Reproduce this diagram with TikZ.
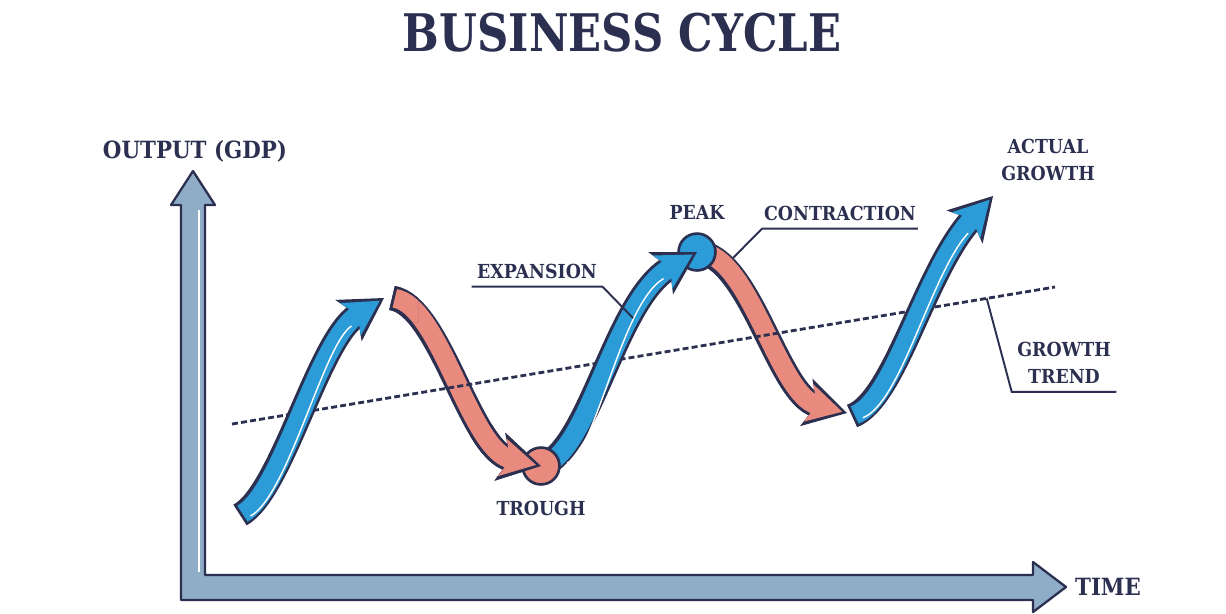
\documentclass[tikz,border=0pt]{standalone}
\usepackage{fontspec}
\newfontfamily\slab{DejaVu Serif Condensed}
\usetikzlibrary{arrows.meta,calc}

\definecolor{ink}{HTML}{2C3050}
\definecolor{rise}{HTML}{2B9CD8}
\definecolor{fall}{HTML}{E98A7F}
\definecolor{axisblue}{HTML}{90ADC8}

\tikzset{
  wave/.style={line width=14pt,draw=ink,-{Stealth[length=24pt,width=28pt,inset=6pt,line width=0pt]}},
  wavefill/.style={line width=10.8pt,shorten >=2.9pt,shorten <=1.6pt,-{Stealth[length=19.8pt,width=22pt,inset=5pt,line width=0pt]}},
  shine/.style={white,line width=0.8pt,shorten >=26pt,shorten <=3pt,transform canvas={shift={(3.4pt,-2pt)}}},
  tag/.style={font=\slab\bfseries\fontsize{11}{15.3}\selectfont,text=ink,align=center,inner sep=1pt},
  axislabel/.style={tag,font=\slab\bfseries\fontsize{13.5}{15}\selectfont},
  leader/.style={draw=ink,line width=1.1pt},
  dot/.style={circle,draw=ink,line width=1.5pt,minimum size=21pt,inner sep=0pt},
}

% one arrow of the wave: dark rim first, colour on top
\newcommand\wavearrow[2]{%
  \draw[wave] #2;
  \draw[wavefill,draw=#1] #2;}

\begin{document}
\begin{tikzpicture}[x=0.02cm,y=-0.02cm]
  \useasboundingbox (0,0) rectangle (1226,613);

  \node[tag,font=\slab\bfseries\fontsize{29.5}{30}\selectfont] (title) at (622,33) {\scalebox{0.93}[1]{BUSINESS CYCLE}};

  % both axes as one L-shaped arrow
  \draw[ink,line width=1.3pt,fill=axisblue,line join=round]
    (181,600) -- (181,205) -- (171,205) -- (193,171) -- (215,205) -- (205,205)
    -- (205,575) -- (1033,575) -- (1033,562) -- (1066,587) -- (1033,612)
    -- (1033,600) -- cycle;
  \draw[white,line width=1pt] (199,210) -- (199,572);
  \node[axislabel] (output) at (195,151) {OUTPUT (GDP)};
  \node[axislabel] (time) at (1108,587) {TIME};

  % turning points of the wave
  \coordinate (start) at (240,515);
  \coordinate (top1) at (384,298);
  \coordinate (top1b) at (392,298);
  \coordinate (troughPt) at (541,466);
  \coordinate (peakPt) at (697,252);
  \coordinate (low2) at (847,413);
  \coordinate (low2b) at (852,416);
  \coordinate (finish) at (993,196);

  % contractions sit under the trend line
  \wavearrow{fall}{(top1b) .. controls (440,305) and (470,450) .. (troughPt)}
  \wavearrow{fall}{(peakPt) .. controls (750,255) and (778,395) .. (low2)}

  \coordinate (trendA) at (232,424);
  \coordinate (trendB) at (1055,287);
  \draw[ink,line width=1.6pt,dash pattern=on 3.4pt off 1.8pt] (trendA) -- (trendB);

  \node[dot,fill=rise] (peak) at (peakPt) {};

  % expansions sit over it
  \wavearrow{rise}{(start) .. controls (282,492) and (318,340) .. (top1)}
  \wavearrow{rise}{(troughPt) .. controls (590,450) and (615,300) .. (peakPt)}
  \wavearrow{rise}{(low2b) .. controls (895,400) and (925,270) .. (finish)}
  \draw[shine] (start) .. controls (282,492) and (318,340) .. (top1);
  \draw[shine,shorten <=12pt] (troughPt) .. controls (590,450) and (615,300) .. (peakPt);
  \draw[shine] (low2b) .. controls (895,400) and (925,270) .. (finish);

  \node[dot,fill=fall] (trough) at (troughPt) {};
  % ends of the first contraction back on top
  \begin{scope}
    \clip (470,425) rectangle (565,500) (380,280) rectangle (418,322);
    \wavearrow{fall}{(top1b) .. controls (440,305) and (470,450) .. (troughPt)}
  \end{scope}

  \node[tag] (peaklabel) at (697,212) {PEAK};
  \node[tag] (troughlabel) at (541,508) {TROUGH};
  \node[tag] (actual) at (1048,160) {ACTUAL\\GROWTH};

  \node[tag,inner xsep=3pt,inner ysep=4.5pt] (expansion) at (537,271) {EXPANSION};
  \coordinate (expPt) at (633,318);
  \draw[leader] (expansion.south west) -- (expansion.south east) -- (expPt);

  \node[tag,inner xsep=1pt,inner ysep=4.5pt] (contraction) at (840,213) {CONTRACTION};
  \coordinate (conPt) at (733,258);
  \draw[leader] (contraction.south east) -- (contraction.south west) -- (conPt);

  \node[tag,inner xsep=3pt,inner ysep=4.5pt] (trend) at (1064,363) {GROWTH\\TREND};
  \draw[leader] ($(trendA)!0.917!(trendB)$) -- (trend.south west) -- (trend.south east);
\end{tikzpicture}
\end{document}
